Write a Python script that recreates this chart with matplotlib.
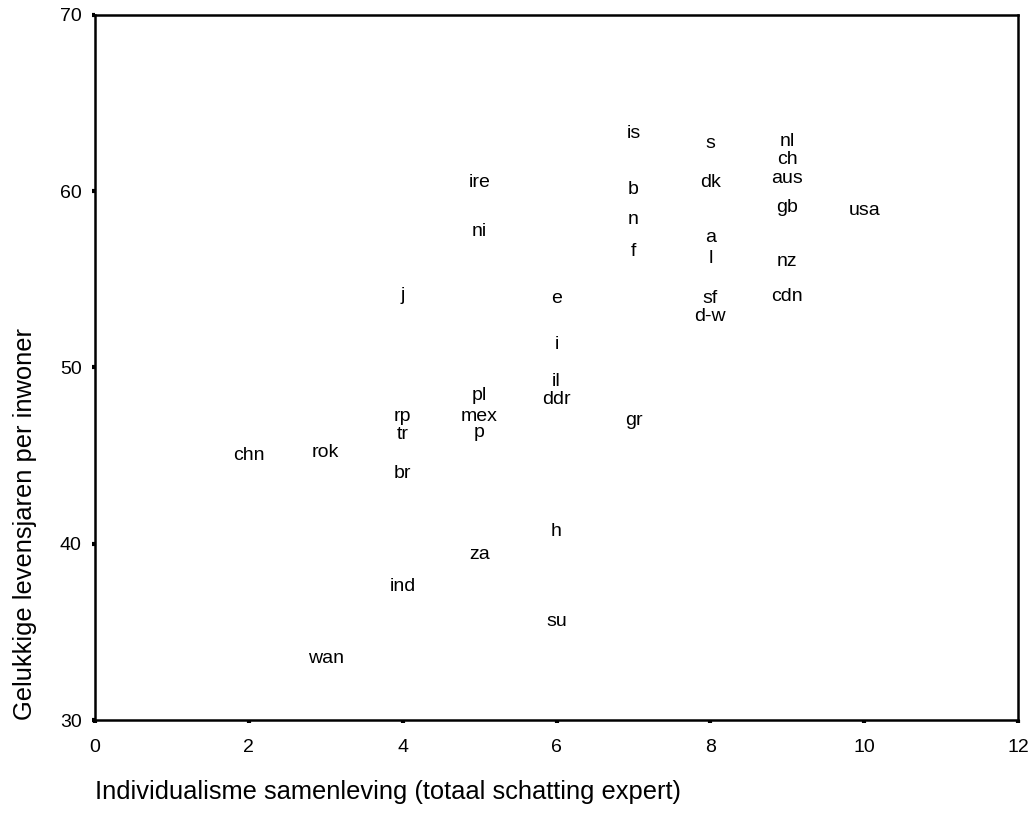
import matplotlib.pyplot as plt

plt.rcParams['font.family'] = ['Liberation Sans', 'DejaVu Sans']

# landcodes met individualisme-score (x) en gelukkige levensjaren (y)
landen = ['chn', 'rok', 'wan',
          'rp', 'tr', 'br', 'ind', 'j',
          'ire', 'ni', 'pl', 'mex', 'p', 'za',
          'e', 'i', 'il', 'ddr', 'h', 'su',
          'is', 'b', 'n', 'f', 'gr',
          's', 'dk', 'a', 'l', 'sf', 'd-w',
          'nl', 'ch', 'aus', 'gb', 'nz', 'cdn',
          'usa']
individualisme = [2, 3, 3,
                  4, 4, 4, 4, 4,
                  5, 5, 5, 5, 5, 5,
                  6, 6, 6, 6, 6, 6,
                  7, 7, 7, 7, 7,
                  8, 8, 8, 8, 8, 8,
                  9, 9, 9, 9, 9, 9,
                  10]
levensjaren = [45.0, 45.2, 33.5,
               47.2, 46.2, 44.0, 37.6, 54.1,
               60.5, 57.7, 48.4, 47.2, 46.3, 39.4,
               53.9, 51.3, 49.2, 48.2, 40.7, 35.6,
               63.3, 60.1, 58.4, 56.6, 47.0,
               62.7, 60.5, 57.4, 56.2, 53.9, 52.9,
               62.85, 61.8, 60.7, 59.1, 56.0, 54.0,
               58.9]

fig = plt.figure(figsize=(10.33, 8.32), dpi=100)
ax = fig.add_axes([0.092, 0.1346, 0.8935, 0.8474])

for naam, xv, yv in zip(landen, individualisme, levensjaren):
    ax.text(xv, yv, naam, ha='center', va='center', fontsize=14)

ax.set_xlim(0, 12)
ax.set_ylim(30, 70)
ax.set_xticks(range(0, 13, 2))
ax.set_yticks(range(30, 71, 10))
ax.tick_params(direction='out', length=2.5, width=3, labelsize=14)
ax.tick_params(axis='x', pad=11)
ax.tick_params(axis='y', pad=7)
for sp in ax.spines.values():
    sp.set_linewidth(1.8)

ax.set_xlabel('Individualisme samenleving (totaal schatting expert)', fontsize=18.4, loc='left')
ax.xaxis.set_label_coords(0.0, -0.085)
ax.set_ylabel('Gelukkige levensjaren per inwoner', fontsize=18.4, loc='bottom')
ax.yaxis.set_label_coords(-0.063, 0.0)

fig.savefig('out.png', dpi=100)
